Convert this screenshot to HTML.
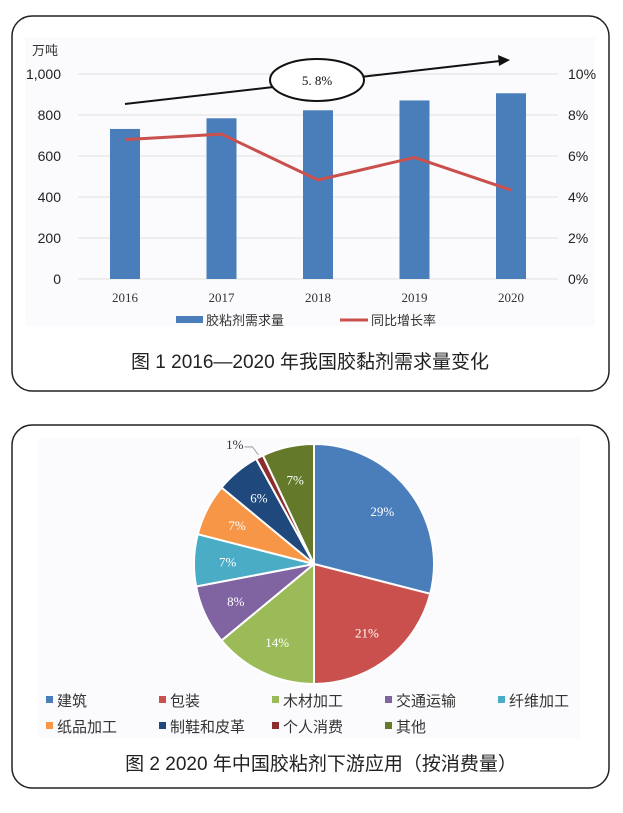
<!DOCTYPE html>
<html><head><meta charset="utf-8">
<style>
html,body{margin:0;padding:0;background:#fff;}
body{width:623px;height:808px;overflow:hidden;}
svg text{font-family:"Liberation Sans","Noto Sans CJK SC",sans-serif;}
.serif{font-family:"Liberation Serif","Noto Serif CJK SC",serif !important;}
</style></head>
<body>
<svg width="623" height="808" viewBox="0 0 623 808" xmlns="http://www.w3.org/2000/svg">
  <!-- Figure 1 frame -->
  <rect x="12" y="16" width="597" height="375" rx="20" fill="#fff" stroke="#222" stroke-width="1.5"/>
  <rect x="25" y="37" width="570" height="289" fill="#fbfbfd"/>
  <g id="chart1"></g>
  <text x="32" y="55" font-size="13" fill="#333">万吨</text>
  <text x="310" y="368" font-size="19" text-anchor="middle" fill="#222">图 1  2016—2020 年我国胶黏剂需求量变化</text>

  <!-- Figure 2 frame -->
  <rect x="12" y="425" width="597" height="363" rx="20" fill="#fff" stroke="#222" stroke-width="1.5"/>
  <rect x="38" y="438" width="542" height="300" fill="#fbfbfd"/>
  <g id="chart2"></g>
  <text x="321" y="770" font-size="19" text-anchor="middle" fill="#222">图 2  2020 年中国胶粘剂下游应用（按消费量）</text>
</svg>
<script>
const NS="http://www.w3.org/2000/svg";
function mk(tag,attrs,parent,text){const e=document.createElementNS(NS,tag);for(const k in attrs)e.setAttribute(k,attrs[k]);if(text!==undefined)e.textContent=text;parent.appendChild(e);return e;}

// ---- Chart 1 data ----
const years=["2016","2017","2018","2019","2020"];
const demand=[732,784,823,871,906];
const growth=[6.8,7.07,4.83,5.93,4.34];
const leftTicks=[0,200,400,600,800,1000];
const leftTickLabels=["0","200","400","600","800","1,000"];
const rightTicks=[0,2,4,6,8,10];
const rightTickLabels=["0%","2%","4%","6%","8%","10%"];
const cagrLabel="5. 8%";

const c1=document.getElementById('chart1');
const y0=279,y1=74,xL=78,xR=558;
const yL=v=>y0-(v/1000)*(y0-y1);
const yR=v=>y0-(v/10)*(y0-y1);
const xC=i=>125+i*96.5;

leftTicks.forEach((t,i)=>{
  const g=mk('line',{x1:xL,x2:xR,y1:yL(t),y2:yL(t),stroke:'#e0e0e0','stroke-width':1},c1);
  
  
  const tl=mk('text',{x:61,y:yL(t)+5,'font-size':14,'text-anchor':'end',fill:'#222'},c1,leftTickLabels[i]);
  
  
});
rightTicks.forEach((t,i)=>{
  const tl=mk('text',{x:568,y:yR(t)+5,'font-size':14,fill:'#222'},c1,rightTickLabels[i]);
  
  
});
demand.forEach((v,i)=>{
  const b=mk('rect',{x:xC(i)-15,y:yL(v),width:30,height:y0-yL(v),fill:'#4a7ebb'},c1);
  
  
  const l=mk('text',{x:xC(i),y:302,'font-size':13,'text-anchor':'middle',fill:'#333',class:'serif'},c1,years[i]);
  
  
});
const pl=mk('polyline',{points:growth.map((v,i)=>xC(i)+','+yR(v)).join(' '),fill:'none',stroke:'#c9504c','stroke-width':3,'stroke-linejoin':'round'},c1);



// trend arrow + ellipse
const ar=mk('line',{x1:125,y1:104,x2:500,y2:61,stroke:'#111','stroke-width':2},c1);


const ah=mk('polygon',{points:'510,60 498,55 499,66',fill:'#111'},c1);


const el=mk('ellipse',{cx:317,cy:80,rx:47,ry:21,fill:'#fff',stroke:'#111','stroke-width':2},c1);


const et=mk('text',{x:317,y:85,'font-size':13,'text-anchor':'middle',fill:'#111',class:'serif'},c1,cagrLabel);



// legend
const lg1=mk('rect',{x:176,y:316,width:27,height:7,fill:'#4a7ebb'},c1);


const lt1=mk('text',{x:206,y:325,'font-size':13,fill:'#333'},c1,'胶粘剂需求量');


const lg2=mk('line',{x1:340,x2:368,y1:320,y2:320,stroke:'#c9504c','stroke-width':3},c1);


const lt2=mk('text',{x:371,y:325,'font-size':13,fill:'#333'},c1,'同比增长率');



// ---- Chart 2 data ----
const sectors=["建筑","包装","木材加工","交通运输","纤维加工","纸品加工","制鞋和皮革","个人消费","其他"];
const shares=[29,21,14,8,7,7,6,1,7];
const shareLabels=["29%","21%","14%","8%","7%","7%","6%","1%","7%"];
const colors=["#4a7ebb","#c9504c","#9bbb59","#8064a2","#4bacc6","#f79646","#1f497d","#8b2d2d","#647a2a"];

const c2=document.getElementById('chart2');
const cx=314,cy=564,r=120;
const total=shares.reduce((a,b)=>a+b,0);
let acc=0;
shares.forEach((s,i)=>{
  const a0=acc/total*2*Math.PI, a1=(acc+s)/total*2*Math.PI; acc+=s;
  const p=a=>[cx+r*Math.sin(a),cy-r*Math.cos(a)];
  const [x0,yy0]=p(a0),[x1,yy1]=p(a1);
  const large=(a1-a0)>Math.PI?1:0;
  const path=mk('path',{d:`M${cx},${cy} L${x0},${yy0} A${r},${r} 0 ${large} 1 ${x1},${yy1} Z`,fill:colors[i],stroke:'#fff','stroke-width':2},c2);
  
  
  const am=(a0+a1)/2;
  if(s>=3){
    const lx=cx+0.72*r*Math.sin(am), ly=cy-0.72*r*Math.cos(am);
    const t=mk('text',{x:lx,y:ly+5,'font-size':13,'text-anchor':'middle',fill:'#fff',class:'serif'},c2,shareLabels[i]);
    
    
  } else {
    const ex=cx+1.02*r*Math.sin(am), ey=cy-1.02*r*Math.cos(am);
    const ln=mk('polyline',{points:`${ex},${ey} ${ex-6},${ey-8} ${ex-14},${ey-8}`,fill:'none',stroke:'#888','stroke-width':0.8},c2);
    
    
    const t=mk('text',{x:ex-15,y:ey-6,'font-size':13,'text-anchor':'end',fill:'#333',class:'serif'},c2,shareLabels[i]);
    
    
  }
});
sectors.forEach((n,i)=>{
  const col=i%5,row=Math.floor(i/5);
  const x=46+col*113, y=700+row*26;
  const sw=mk('rect',{x:x,y:y-4,width:7,height:7,fill:colors[i]},c2);
  
  
  const t=mk('text',{x:x+11,y:y+6,'font-size':15,fill:'#333'},c2,n);
  
  
});
</script>
</body></html>
